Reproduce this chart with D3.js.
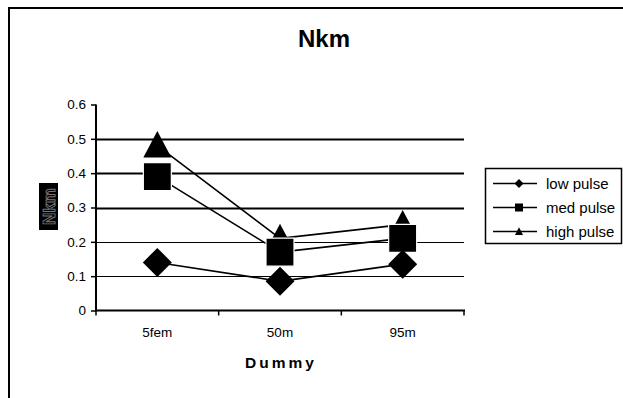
<!DOCTYPE html>
<html>
<head>
<meta charset="utf-8">
<script src="https://cdn.jsdelivr.net/npm/d3@7"></script>
<style>
  html, body { margin: 0; padding: 0; background: #fff; }
  svg { display: block; font-family: "Liberation Sans", Arial, sans-serif; }
</style>
</head>
<body>
<svg id="chart" width="623" height="398"></svg>
<script>
// Category axis, tick values and series
const categories = ["5fem", "50m", "95m"];
const yTicks = [0, 0.1, 0.2, 0.3, 0.4, 0.5, 0.6];
const seriesNames = ["low pulse", "med pulse", "high pulse"];
const lowPulse  = [0.14, 0.085, 0.135];
const medPulse  = [0.39, 0.17, 0.21];
const highPulse = [0.48, 0.21, 0.25];
const markerShapes = ["diamond", "square", "triangle"];

const series = seriesNames.map((name, i) => ({
  name,
  values: [lowPulse, medPulse, highPulse][i],
  shape: markerShapes[i]
}));

const svg = d3.select("#chart");

// outer chart frame (runs off the right and bottom edges)
svg.append("rect")
  .attr("x", 9).attr("y", 8)
  .attr("width", 700).attr("height", 500)
  .attr("fill", "#fff").attr("stroke", "#000").attr("stroke-width", 2);

const plot = { left: 96, right: 464, top: 104.5, bottom: 310.5 };

const x = d3.scaleBand().domain(categories).range([plot.left, plot.right]);
const y = d3.scaleLinear().domain([0, 0.6]).range([plot.bottom, plot.top]);

// title
svg.append("text")
  .attr("x", 324).attr("y", 47)
  .attr("text-anchor", "middle")
  .attr("font-size", 24).attr("font-weight", "bold")
  .text("Nkm");

// horizontal gridlines
svg.append("g").selectAll("line")
  .data(yTicks.filter(t => t > 0 && t < 0.6))
  .join("line")
  .attr("x1", plot.left).attr("x2", plot.right)
  .attr("y1", d => Math.round(y(d)) + 0.5).attr("y2", d => Math.round(y(d)) + 0.5)
  .attr("stroke", "#000")
  .attr("stroke-width", d => d >= 0.3 ? 2 : 1.2);

// y axis
const yAxis = svg.append("g")
  .attr("transform", `translate(${plot.left},0)`)
  .call(d3.axisLeft(y).tickValues(yTicks).tickSize(5).tickPadding(5)
    .tickFormat(d => d === 0 ? "0" : d3.format(".1f")(d)));
yAxis.select(".domain").attr("stroke-width", 2).attr("d", `M0,${plot.top}V${plot.bottom + 1}`);
yAxis.selectAll(".tick line").attr("stroke-width", 1.5);
yAxis.selectAll(".tick text").attr("font-size", 13.5).attr("font-family", "Liberation Sans, Arial, sans-serif").attr("fill", "#000");

// x axis with ticks between categories
const xAxisG = svg.append("g").attr("transform", `translate(0,${plot.bottom})`);
xAxisG.append("line")
  .attr("x1", plot.left - 1).attr("x2", plot.right + 1)
  .attr("stroke", "#000").attr("stroke-width", 2);
const boundaries = categories.map(c => x(c)).concat([plot.right]);
xAxisG.selectAll("line.tk").data(boundaries).join("line")
  .attr("class", "tk")
  .attr("x1", d => d).attr("x2", d => d)
  .attr("y1", 0).attr("y2", 5)
  .attr("stroke", "#000").attr("stroke-width", 1.5);
xAxisG.selectAll("text").data(categories).join("text")
  .attr("x", d => x(d) + x.bandwidth() / 2)
  .attr("y", 26)
  .attr("text-anchor", "middle")
  .attr("font-size", 13.5)
  .text(d => d);

// x axis title
svg.append("text")
  .attr("x", 281).attr("y", 368)
  .attr("text-anchor", "middle")
  .attr("font-size", 15.5).attr("font-weight", "bold")
  .attr("letter-spacing", 3)
  .text("Dummy");

// y axis title: rotated label on a dark plate
const yt = svg.append("g").attr("transform", "translate(48.5,206.5)");
yt.append("rect")
  .attr("x", -9.5).attr("y", -23.5).attr("width", 19).attr("height", 47)
  .attr("fill", "#000");
yt.append("text")
  .attr("transform", "rotate(-90)")
  .attr("text-anchor", "middle")
  .attr("dy", "0.36em")
  .attr("font-size", 17).attr("font-weight", "bold")
  .attr("fill", "#000").attr("stroke", "#777").attr("stroke-width", 0.9)
  .text("Nkm");

// marker shapes
function markerPath(shape, s) {
  if (shape === "diamond") return `M0,${-s}L${s},0L0,${s}L${-s},0Z`;
  if (shape === "square") return `M${-s},${-s}H${s}V${s}H${-s}Z`;
  // triangle
  return `M0,${-s * 1.05}L${s},${s * 0.85}L${-s},${s * 0.85}Z`;
}
const cx = c => x(c) + x.bandwidth() / 2;

const line = d3.line()
  .x((d, i) => cx(categories[i]))
  .y(d => y(d));

// connecting lines
svg.append("g").selectAll("path")
  .data(series)
  .join("path")
  .attr("d", s => line(s.values))
  .attr("fill", "none").attr("stroke", "#000").attr("stroke-width", 1.6);

// markers: high pulse first, then med pulse, then low pulse
const sizes = { diamond: 14.5, square: 14, triangle: 14 };
["triangle", "square", "diamond"].forEach(shape => {
  const s = series.find(d => d.shape === shape);
  svg.append("g").selectAll("path")
    .data(s.values)
    .join("path")
    .attr("transform", (d, i) => `translate(${cx(categories[i])},${y(d)})`)
    .attr("d", markerPath(shape, sizes[shape]))
    .attr("fill", "#000")
    .attr("stroke", shape === "square" ? "#fff" : "none")
    .attr("stroke-width", 1.2);
});

// legend
const legend = svg.append("g");
legend.append("rect")
  .attr("x", 485.5).attr("y", 168.5).attr("width", 136).attr("height", 75)
  .attr("fill", "#fff").attr("stroke", "#000").attr("stroke-width", 1.5);
const rowY = [183.5, 207.5, 231.5];
const rows = legend.selectAll("g.row").data(series).join("g")
  .attr("class", "row")
  .attr("transform", (d, i) => `translate(0,${rowY[i]})`);
rows.append("line")
  .attr("x1", 493).attr("x2", 537)
  .attr("stroke", "#000").attr("stroke-width", 1.5);
rows.append("path")
  .attr("transform", "translate(519,0)")
  .attr("d", d => markerPath(d.shape, d.shape === "diamond" ? 4.5 : 4))
  .attr("fill", "#000");
rows.append("text")
  .attr("x", 546).attr("dy", "0.36em")
  .attr("font-size", 15)
  .text(d => d.name);
</script>
</body>
</html>
